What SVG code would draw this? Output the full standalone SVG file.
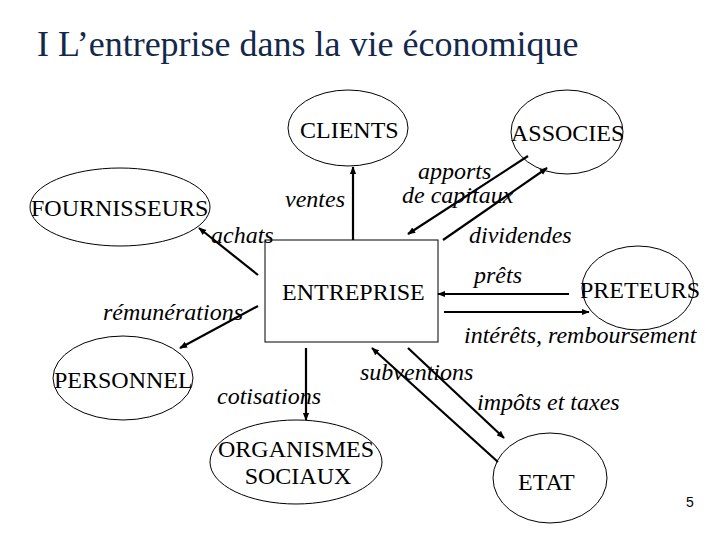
<svg xmlns="http://www.w3.org/2000/svg" width="720" height="540" viewBox="0 0 720 540">
<style>
.n{fill:#fff;stroke:#000;stroke-width:1}
.a{stroke:#000;stroke-width:2.2;fill:none;marker-end:url(#ah)}
.t{font-family:'Liberation Serif','Times New Roman',serif;font-size:24px;fill:#000}
.l{font-family:'Liberation Serif','Times New Roman',serif;font-size:24px;font-style:italic;fill:#000}
</style>
<defs>
<marker id="ah" viewBox="0 0 10 10" refX="9" refY="5" markerWidth="3.6" markerHeight="3.6" orient="auto" markerUnits="strokeWidth">
<path d="M0,1 L10,5 L0,9 z" fill="#000"/>
</marker>
</defs>
<rect width="720" height="540" fill="#fff"/>
<text x="37" y="56" style="font-family:'Liberation Serif','Times New Roman',serif;font-size:36px;fill:#13294b">I L’entreprise dans la vie économique</text>
<g id="clients"><ellipse class="n" cx="348" cy="128" rx="60" ry="38"/><text class="t" x="300" y="138">CLIENTS</text></g>
<g id="associes"><ellipse class="n" cx="567" cy="132" rx="56" ry="42"/><text class="t" x="511" y="141">ASSOCIES</text></g>
<g id="fournisseurs"><ellipse class="n" cx="120" cy="207" rx="90" ry="39"/><text class="t" x="31" y="216">FOURNISSEURS</text></g>
<g id="entreprise"><rect class="n" x="265" y="240" width="173" height="102"/><text class="t" x="282" y="300">ENTREPRISE</text></g>
<g id="preteurs"><ellipse class="n" cx="638" cy="288" rx="56" ry="42"/><text class="t" x="580" y="298">PRETEURS</text></g>
<g id="personnel"><ellipse class="n" cx="123" cy="378" rx="70" ry="42"/><text class="t" x="54" y="388">PERSONNEL</text></g>
<g id="organismes"><ellipse class="n" cx="296" cy="462" rx="86" ry="42"/><text class="t" x="296" y="457" text-anchor="middle">ORGANISMES</text><text class="t" x="298" y="484" text-anchor="middle">SOCIAUX</text></g>
<g id="etat"><ellipse class="n" cx="550" cy="478" rx="57" ry="45"/><text class="t" x="518" y="490">ETAT</text></g>
<g id="connectors">
<line class="a" x1="353" y1="240" x2="353" y2="167"/>
<line class="a" x1="258" y1="275" x2="199" y2="228"/>
<line class="a" x1="528" y1="156" x2="408" y2="234"/>
<line class="a" x1="443" y1="240" x2="547" y2="168"/>
<line class="a" x1="258" y1="306" x2="180" y2="348"/>
<line class="a" x1="306" y1="348" x2="306" y2="420"/>
<line class="a" x1="569" y1="294" x2="438" y2="294"/>
<line class="a" x1="444" y1="312" x2="589" y2="312"/>
<line class="a" x1="498" y1="462" x2="372" y2="348"/>
<line class="a" x1="408" y1="348" x2="504" y2="438"/>
</g>
<g id="labels">
<text class="l" x="285" y="207">ventes</text>
<text class="l" x="211" y="243">achats</text>
<text class="l" x="418" y="179">apports</text>
<text class="l" x="402" y="203">de capitaux</text>
<text class="l" x="469" y="243">dividendes</text>
<text class="l" x="474" y="283">prêts</text>
<text class="l" x="464" y="343">intérêts, remboursement</text>
<text class="l" x="103" y="320">rémunérations</text>
<text class="l" x="217" y="404">cotisations</text>
<text class="l" x="360" y="380">subventions</text>
<text class="l" x="477" y="410">impôts et taxes</text>
</g>
<text x="686" y="507" style="font-family:'Liberation Sans',Arial,sans-serif;font-size:14px">5</text>
</svg>
